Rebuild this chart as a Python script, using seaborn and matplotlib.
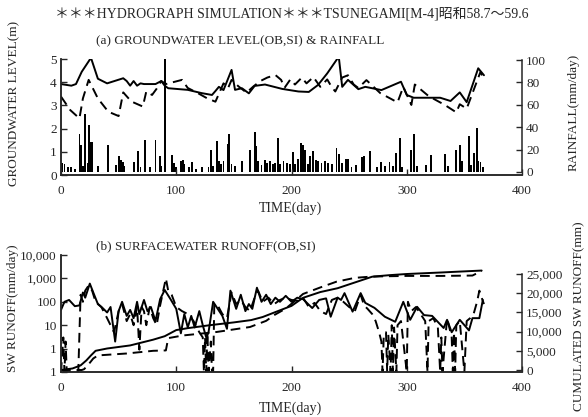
import matplotlib
matplotlib.use("Agg")
import matplotlib.pyplot as plt
import seaborn as sns

# (a) groundwater level [m], observed (solid) and simulated (dashed)
gw_day_obs = [0, 9, 13, 18, 26, 32, 40, 54, 57, 60, 63, 66, 69, 72, 82, 87, 90, 93, 110, 122, 131, 134,
              137, 141, 148, 151, 157, 163, 168, 177, 192, 206, 215, 223, 231, 241, 244, 249, 258,
              264, 278, 295, 300, 306, 329, 338, 346, 352, 362, 367]
gw_obs = [3.92, 3.85, 3.92, 4.45, 5.05, 4.15, 3.95, 4.17, 4.05, 3.85, 4.05, 3.85, 3.95, 3.92, 3.92, 4.05,
          3.85, 3.74, 3.67, 3.53, 3.45, 3.62, 3.8, 3.66, 4.53, 3.67, 3.74, 3.52, 3.84, 3.9, 3.71, 3.6,
          3.58, 3.88, 4.38, 5.1, 3.8, 4.1, 3.7, 3.8, 3.66, 4.02, 3.45, 3.33, 3.33, 3.19, 3.56, 3.14,
          4.6, 4.3]
gw_day_sim = [0, 8, 16, 19, 24, 32, 41, 50, 54, 61, 71, 74, 79, 83, 87, 91, 105, 110, 118, 127, 134,
              141, 145, 148, 154, 161, 167, 173, 179, 186, 191, 194, 199, 203, 209, 213, 219, 225,
              231, 235, 238, 244, 249, 254, 258, 265, 277, 292, 297, 304, 307, 319, 333, 343, 346,
              352, 364, 367]
gw_sim = [3.38, 2.8, 2.44, 3.3, 4.1, 3.3, 2.73, 2.54, 3.56, 3.17, 2.95, 3.6, 3.45, 3.72, 4.05, 3.92,
          4.1, 3.75, 3.55, 3.3, 3.16, 3.95, 3.75, 4.1, 3.82, 3.55, 3.82, 4.05, 4.2, 4.31, 4.1, 3.76,
          4.12, 3.9, 4.2, 3.95, 4.22, 3.8, 4.12, 3.78, 3.6, 4.2, 4.3, 3.9, 3.75, 4.09, 3.53, 3.13,
          3.8, 3.02, 3.9, 3.4, 3.02, 2.7, 3.05, 2.86, 4.45, 4.1]

# rainfall [mm/day]
rain_day = [1, 3, 6, 9, 12, 16, 17, 19, 21, 23, 24, 26, 27, 32, 41, 48, 50, 52, 54, 55, 63, 67, 69,
            73, 77, 82, 86, 87, 90, 96, 98, 100, 104, 106, 107, 111, 114, 117, 122, 128, 130, 132,
            135, 137, 139, 141, 145, 146, 148, 151, 157, 164, 168, 169, 171, 174, 177, 179, 181,
            184, 186, 188, 190, 193, 196, 199, 201, 203, 206, 208, 210, 212, 214, 216, 219, 221,
            223, 226, 229, 232, 235, 239, 241, 244, 247, 249, 252, 256, 261, 263, 268, 274, 278,
            281, 285, 288, 291, 294, 296, 304, 306, 309, 317, 321, 333, 336, 343, 346, 348, 354,
            356, 358, 361, 362, 364, 366]
rain_mm = [8, 7, 4, 4, 3, 34, 24, 5, 52, 8, 42, 27, 27, 5, 24, 6, 14, 11, 9, 5, 9, 19, 4, 29, 4, 29,
           14, 5, 105, 15, 8, 4, 10, 11, 7, 4, 9, 3, 4, 4, 20, 5, 28, 10, 7, 10, 25, 34, 7, 5, 10,
           20, 36, 23, 10, 6, 11, 8, 10, 7, 8, 30, 7, 10, 8, 7, 18, 7, 12, 26, 24, 20, 7, 14, 19,
           11, 10, 8, 10, 8, 7, 21, 16, 8, 12, 12, 4, 6, 13, 14, 19, 4, 9, 5, 9, 5, 17, 30, 4, 20,
           34, 5, 6, 15, 16, 5, 20, 24, 10, 32, 6, 17, 39, 10, 9, 4]

# (b) daily surface water runoff [mm/day]
sw_day_obs = [0, 3, 7, 12, 16, 19, 21, 25, 28, 32, 36, 40, 43, 47, 50, 53, 57, 60, 63, 66, 68, 72,
              75, 78, 82, 86, 90, 95, 100, 104, 107, 110, 113, 116, 120, 123, 126, 128, 132, 136,
              140, 144, 147, 152, 156, 160, 163, 166, 170, 174, 178, 182, 186, 190, 195, 200, 205,
              210, 218, 224, 230, 234, 240, 243, 246, 253, 260, 264, 272, 281, 290, 297, 303, 309,
              315, 322, 332, 335, 339, 346, 354, 357, 363, 366]
sw_obs = [45, 100, 120, 65, 70, 250, 150, 600, 250, 80, 55, 35, 60, 2, 40, 100, 25, 45, 20, 100, 30,
          120, 40, 60, 15, 130, 320, 130, 50, 4.5, 30, 8, 25, 8, 40, 10, 3, 5, 100, 50, 25, 7, 300,
          50, 200, 40, 80, 50, 400, 100, 200, 80, 150, 100, 180, 100, 150, 130, 54, 120, 140, 23,
          150, 120, 235, 38, 235, 90, 55, 23, 14, 100, 17, 61, 27, 25, 7.6, 17, 5, 17, 6, 20, 20,
          120]
sw_day_sim = [0, 2, 3, 4, 5, 15, 17, 19, 21, 24, 27, 30, 35, 40, 43, 46, 50, 53, 57, 60, 63, 66, 68,
              70, 72, 74, 77, 80, 83, 86, 91, 93, 96, 100, 105, 110, 115, 120, 123, 124, 125, 126,
              127, 128, 130, 131, 132, 133, 136, 140, 144, 148, 152, 156, 160, 164, 168, 171, 175,
              180, 185, 190, 195, 200, 205, 210, 215, 220, 225, 230, 235, 240, 245, 250, 255, 260,
              263, 266, 270, 273, 276, 278, 279, 280, 282, 283, 284, 286, 287, 288, 289, 291, 292,
              295, 300, 301, 304, 308, 312, 316, 318, 319, 323, 327, 329, 330, 331, 335, 339, 340,
              341, 342, 343, 346, 350, 352, 355, 358, 361, 363, 365, 367]
sw_sim = [0.1, 3, 0.1, 2, 0.1, 0.1, 200, 100, 300, 500, 300, 100, 60, 20, 10, 5, 40, 80, 15, 30, 10,
          60, 0.9, 60, 40, 10, 60, 20, 10, 70, 1000, 300, 200, 60, 40, 30, 15, 5, 3, 0.1, 3, 0.1, 5,
          0.1, 2, 0.1, 0.1, 80, 70, 30, 20, 250, 80, 120, 60, 40, 150, 300, 100, 150, 80, 120, 150,
          120, 110, 150, 60, 90, 40, 30, 120, 150, 100, 60, 40, 200, 70, 50, 30, 15, 5, 2, 0.1, 3,
          5, 0.1, 4, 0.1, 10, 0.1, 8, 0.1, 10, 15, 0.1, 100, 40, 60, 30, 15, 0.1, 15, 20, 8, 0.1,
          3, 0.1, 20, 3, 0.1, 5, 0.1, 10, 15, 0.1, 15, 20, 30, 100, 300, 150, 80]

# cumulated surface water runoff [mm]
cum_day_obs = [0, 10, 17, 22, 26, 30, 40, 60, 80, 90, 95, 100, 110, 130, 150, 165, 175, 187, 200,
               210, 225, 240, 255, 270, 285, 300, 330, 365]
cum_obs = [0, 400, 1200, 2500, 3800, 5000, 5600, 6400, 7900, 8800, 9600, 10400, 10900, 11700, 12400,
           13000, 13800, 15200, 16700, 18800, 20300, 21300, 22800, 24300, 24700, 25000, 25400, 25900]
cum_day_sim = [0, 18, 20, 24, 28, 32, 57, 80, 91, 93, 106, 135, 164, 178, 185, 195, 205, 210, 225,
               239, 255, 268, 280, 300, 330, 357, 365]
cum_sim = [0, 0, 200, 1500, 3000, 3800, 4300, 5000, 5100, 8300, 9000, 9900, 11200, 12800, 14300,
           16000, 18500, 19800, 21500, 23000, 24000, 24300, 24400, 24500, 24500, 24600, 25800]

sns.set_style("ticks")
plt.rcParams["font.family"] = ["Liberation Serif", "Noto Sans CJK JP", "DejaVu Sans"]
plt.rcParams["xtick.direction"] = "in"
plt.rcParams["ytick.direction"] = "in"
plt.rcParams["axes.linewidth"] = 1.1

W, H = 588, 417
fig = plt.figure(figsize=(W / 100, H / 100), dpi=100)
ax1 = fig.add_axes([61 / W, 1 - 175 / H, 461 / W, 116 / H])
ax2 = fig.add_axes([61 / W, 1 - 372 / H, 461 / W, 117 / H])

dash = (0, (5, 3))
lk = dict(color="black", linewidth=1.4, estimator=None, sort=False)

# ---- (a)
ax1r = ax1.twinx()
ax1r.bar(rain_day, rain_mm, width=1.6, color="black", linewidth=0)
sns.lineplot(x=gw_day_obs, y=gw_obs, ax=ax1, **lk)
sns.lineplot(x=gw_day_sim, y=gw_sim, ax=ax1, linestyle=dash, **lk)
ax1.set_zorder(ax1r.get_zorder() + 1)
ax1.patch.set_visible(False)

ax1.set_xlim(0, 400)
ax1.set_ylim(0, 5)
ax1r.set_ylim(-2.7, 100.9)
ax1r.spines["right"].set_bounds(0, 100)
ax1.set_xticks([0, 100, 200, 300, 400])
ax1.set_yticks([0, 1, 2, 3, 4, 5])
ax1r.set_yticks([0, 20, 40, 60, 80, 100])
for a in (ax1, ax1r):
    a.spines["top"].set_visible(False)
ax1.spines["right"].set_visible(False)

# ---- (b)
ax2r = ax2.twinx()
sns.lineplot(x=sw_day_obs, y=sw_obs, ax=ax2, **lk)
sns.lineplot(x=sw_day_sim, y=sw_sim, ax=ax2, linestyle=dash, **lk)
sns.lineplot(x=cum_day_obs, y=cum_obs, ax=ax2r, **lk)
sns.lineplot(x=cum_day_sim, y=cum_sim, ax=ax2r, linestyle=dash, **lk)

ax2.set_yscale("log")
ax2.set_xlim(0, 400)
ax2.set_ylim(0.1, 10000)
ax2.set_xticks([0, 100, 200, 300, 400])
ax2.set_yticks([0.1, 1, 10, 100, 1000, 10000])
ax2.set_yticklabels(["1", "1", "10", "100", "1,000", "10,000"])
ax2.minorticks_off()
ax2r.set_ylim(-520, 29950)
ax2r.set_yticks([0, 5000, 10000, 15000, 20000, 25000])
ax2r.set_yticklabels(["0", "5,000", "10,000", "15,000", "20,000", "25,000"])
ax2r.spines["right"].set_bounds(0, 25000)
for a in (ax2, ax2r):
    a.spines["top"].set_visible(False)
ax2.spines["right"].set_visible(False)

for a in (ax1, ax1r, ax2, ax2r):
    a.tick_params(length=4, width=1, labelsize=9.5, pad=3)
    a.tick_params(axis="x", pad=7)
    a.set_xlabel("")
    a.set_ylabel("")

# ---- texts
fig.text(292 / W, 1 - 14 / H, "＊＊＊HYDROGRAPH SIMULATION＊＊＊TSUNEGAMI[M-4]昭和58.7～59.6",
         ha="center", va="center", fontsize=10)
fig.text(96 / W, 1 - 41 / H, "(a) GROUNDWATER LEVEL(OB,SI) & RAINFALL",
         ha="left", va="center", fontsize=9.5)
fig.text(96 / W, 1 - 246 / H, "(b) SURFACEWATER RUNOFF(OB,SI)",
         ha="left", va="center", fontsize=9.5)
fig.text(14 / W, 1 - 103 / H, "GROUNDWATER LEVEL(m)", rotation=90,
         ha="center", va="center", fontsize=9.5)
fig.text(574 / W, 1 - 112 / H, "RAINFALL(mm/day)", rotation=90,
         ha="center", va="center", fontsize=9.5)
fig.text(13 / W, 1 - 308 / H, "SW RUNOFF(mm/day)", rotation=90,
         ha="center", va="center", fontsize=9.5)
fig.text(579 / W, 1 - 316 / H, "CUMULATED SW RUNOFF(mm)", rotation=90,
         ha="center", va="center", fontsize=9.5)
fig.text(290 / W, 1 - 208 / H, "TIME(day)", ha="center", va="center", fontsize=10)
fig.text(290 / W, 1 - 408 / H, "TIME(day)", ha="center", va="center", fontsize=10)

fig.savefig("out.png", dpi=100)
